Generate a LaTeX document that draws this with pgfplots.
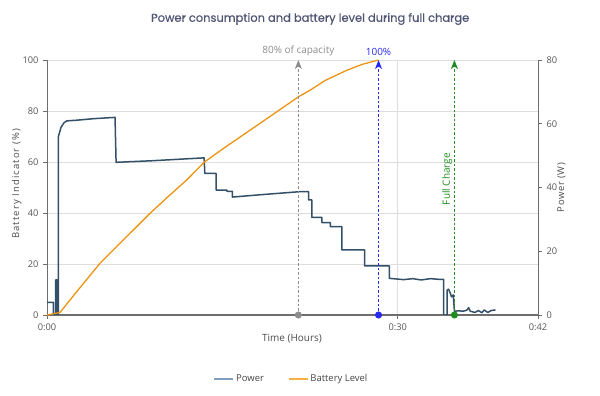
\documentclass[border=0pt]{standalone}
\usepackage{fontspec}
\setmainfont{Open Sans}
\newfontfamily\titlefont{Poppins}[FakeBold=0.5]
\newfontfamily\labfontA{Open Sans}[LetterSpace=12]
\newfontfamily\labfontB{Open Sans}[LetterSpace=7]
\usepackage{pgfplots}
\pgfplotsset{compat=1.18}
\usetikzlibrary{arrows.meta}
\definecolor{powc}{RGB}{52,80,104}
\definecolor{batc}{RGB}{236,148,18}
\definecolor{powleg}{RGB}{130,160,190}
\definecolor{batleg}{RGB}{248,176,70}
\definecolor{gridc}{RGB}{222,222,222}
\definecolor{axc}{RGB}{110,110,110}
\definecolor{tickc}{RGB}{85,85,85}
\definecolor{titc}{RGB}{80,85,115}
\definecolor{mgray}{RGB}{140,140,140}
\definecolor{mblue}{RGB}{40,40,245}
\definecolor{mgreen}{RGB}{30,140,30}

\pgfplotstableread{
t W
0 4.0
0.54 4.0
0.54 0
0.74 0
0.74 11
0.86 11
0.86 0
0.97 0
0.97 55.9
1.2 58.9
1.45 60.3
1.69 60.9
2.5 61.1
4.0 61.6
5.82 62.0
5.91 47.9
9.0 48.4
13.44 49.3
13.50 44.4
14.47 44.4
14.47 39.2
15.39 39.2
15.39 38.8
15.86 38.8
15.86 37.0
18.5 37.8
21.66 38.7
22.37 38.7
22.37 36.1
22.66 36.1
22.66 30.6
23.52 30.6
23.52 29.0
24.23 29.0
24.23 27.7
25.23 27.7
25.23 20.4
27.17 20.4
27.17 15.4
29.28 15.4
29.28 11.5
30.5 11.1
31.3 11.4
32.0 11.0
32.8 11.4
33.5 11.2
33.93 11.2
33.93 0
34.22 0
34.22 7.8
34.35 8.1
34.5 6.8
34.6 5.7
34.75 6.3
34.85 1.2
35.2 1.3
35.6 1.2
35.9 1.5
36.07 2.3
36.2 1.2
36.6 0.8
36.9 1.4
37.2 0.7
37.4 1.6
37.7 0.8
38.0 1.4
38.36 1.6
}\powertable

\pgfplotstableread{
t B
0 0
1.11 1.0
2.8 10.6
4.54 20.3
6.7 30.2
8.82 39.9
10.4 46.6
11.96 53.0
13.44 59.9
15.4 66.3
17.38 72.5
19.5 79.2
21.52 85.6
22.52 88.2
23.8 92.0
25.66 96.0
26.97 98.3
28.36 100
}\battable

\pgfplotsset{
  common/.style={
    scale only axis, width=491bp, height=255bp,
    at={(0,0)}, anchor=south west,
    xmin=0, xmax=42,
    tick label style={font=\fontsize{9.3}{10}\selectfont, text=tickc},
    label style={text=tickc!90!black},
    /pgf/number format/assume math mode=true,
  }
}

\begin{document}
\begin{tikzpicture}
\path[use as bounding box] (-47bp,-81bp) rectangle (553bp,315bp);

% frame, grid, left axis
\begin{axis}[common, clip=false,
  ymin=0, ymax=100,
  ytick={0,20,...,100},
  xtick={0,30,42}, xticklabels={0:00,0:30,0:42},
  xmajorgrids, ymajorgrids,
  grid style={gridc, line width=0.8bp},
  axis x line*=bottom, axis y line*=left,
  x axis line style={axc, line width=1.6bp, -},
  y axis line style={axc, line width=0.8bp, -},
  tick align=outside, major tick length=4bp,
  tick style={axc, line width=0.8bp},
  ylabel={Battery Indicator (\%)},
  ylabel style={at={(axis description cs:-0.062,0.514)}, anchor=center, font=\labfontA\fontsize{9.5}{10}\selectfont},
  xlabel={Time (Hours)},
  xlabel style={at={(axis description cs:0.499,-0.094)}, anchor=center, font=\fontsize{10}{11}\selectfont},
  yticklabel style={xshift=-1bp},
  xticklabel style={yshift=-1bp},
]
\node[font=\titlefont\fontsize{11.5}{13}\selectfont, text=titc] at (axis description cs:0.536,1.161) {Power consumption and battery level during full charge};
\end{axis}

% power axis (right)
\begin{axis}[common,
  ymin=0, ymax=80,
  ytick={0,20,...,80},
  axis x line=none, axis y line*=right,
  y axis line style={axc, line width=0.8bp, -},
  tick align=outside, major tick length=4bp,
  tick style={axc, line width=0.8bp},
  ylabel={Power (W)},
  ylabel style={at={(axis description cs:1.048,0.5)}, anchor=center, font=\labfontB\fontsize{9.5}{10}\selectfont},
  yticklabel style={xshift=1bp},
]
\addplot[powc, line width=1.5bp, line join=round] table[x=t, y=W] {\powertable};
\end{axis}

% battery axis (left scale, hidden)
\begin{axis}[common,
  ymin=0, ymax=100, hide axis, clip=false,
  legend style={at={(0.498,-0.251)}, anchor=center, draw=none, fill=none,
    font=\fontsize{9.5}{10}\selectfont, text=tickc!80!black,
    legend columns=2, /tikz/every even column/.append style={column sep=22bp}},
  legend cell align=left,
]
\addlegendimage{powleg, line width=1.5bp, legend image code/.code={\draw[powleg, line width=1.5bp] (0bp,0bp) -- (19bp,0bp);}}
\addlegendentry{Power}
\addplot[batc, line width=1.3bp, line join=round, legend image code/.code={\draw[batleg, line width=1.5bp] (0bp,0bp) -- (19bp,0bp);}] table[x=t, y=B] {\battable};
\addlegendentry{Battery Level}

\addplot[mgray, line width=1.1bp, dash pattern=on 2.5bp off 2bp, -{Stealth[length=9bp, width=7bp, inset=2.5bp]}, forget plot] coordinates {(21.5,0) (21.5,100)};
\addplot[mblue, line width=1.1bp, dash pattern=on 2.5bp off 2bp, -{Stealth[length=9bp, width=7bp, inset=2.5bp]}, forget plot] coordinates {(28.36,0) (28.36,100)};
\addplot[mgreen, line width=1.1bp, dash pattern=on 2.5bp off 2bp, -{Stealth[length=9bp, width=7bp, inset=2.5bp]}, forget plot] coordinates {(34.85,0) (34.85,100)};
\addplot[only marks, mark=*, mark size=3.3bp, mgray, forget plot] coordinates {(21.5,0)};
\addplot[only marks, mark=*, mark size=3.3bp, mblue, forget plot] coordinates {(28.36,0)};
\addplot[only marks, mark=*, mark size=3.3bp, mgreen, forget plot] coordinates {(34.85,0)};

\node[anchor=south, font=\fontsize{10}{11}\selectfont, text=mgray, inner sep=1bp, yshift=3bp] at (axis cs:21.5,100) {80\% of capacity};
\node[anchor=south, font=\fontsize{10}{11}\selectfont, text=mblue, inner sep=1bp, yshift=3bp] at (axis cs:28.36,100) {100\%};
\node[anchor=south, rotate=90, font=\fontsize{10}{11}\selectfont, text=mgreen, inner sep=2bp] at (axis cs:34.85,53.3) {Full Charge};
\end{axis}
\end{tikzpicture}
\end{document}
